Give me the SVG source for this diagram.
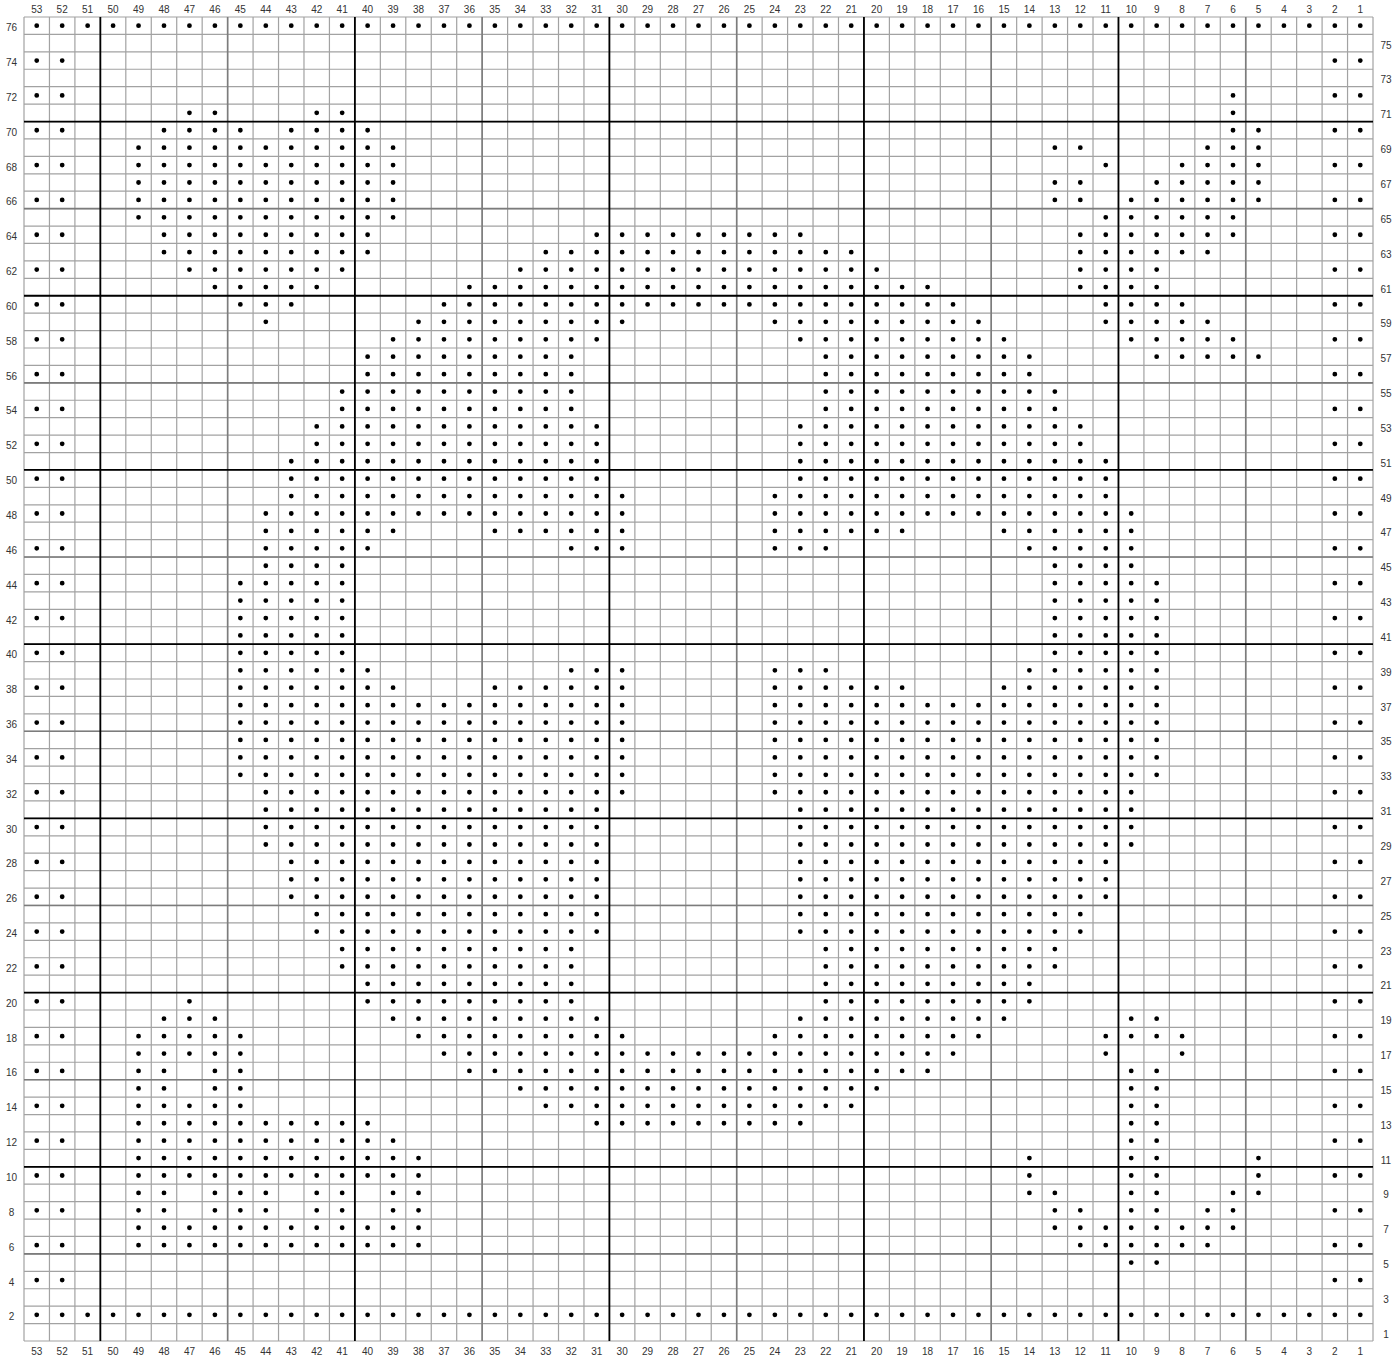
<svg xmlns="http://www.w3.org/2000/svg" width="1397" height="1360" viewBox="0 0 1397 1360">
<style>
.g1{fill:none;stroke:#a2a2a2;stroke-width:1.2;vector-effect:non-scaling-stroke}
.g5{fill:none;stroke:#7c7c7c;stroke-width:1.6;vector-effect:non-scaling-stroke}
.g10{fill:none;stroke:#000;stroke-width:1.8;vector-effect:non-scaling-stroke}
.d{fill:none;stroke:#000;stroke-width:4.8;stroke-linecap:round;stroke-dasharray:0 25.4528}
text{font-family:"Liberation Sans",Arial,sans-serif;font-size:10px;fill:#333;text-anchor:middle}
</style>
<rect width="1397" height="1360" fill="#fff"/>
<g id="grid" transform="translate(24 17) scale(25.45283 17.42105)">
<path class="g1" d="M0 0V76M1 0V76M2 0V76M3 0V76M4 0V76M5 0V76M6 0V76M7 0V76M8 0V76M9 0V76M10 0V76M11 0V76M12 0V76M13 0V76M14 0V76M15 0V76M16 0V76M17 0V76M18 0V76M19 0V76M20 0V76M21 0V76M22 0V76M23 0V76M24 0V76M25 0V76M26 0V76M27 0V76M28 0V76M29 0V76M30 0V76M31 0V76M32 0V76M33 0V76M34 0V76M35 0V76M36 0V76M37 0V76M38 0V76M39 0V76M40 0V76M41 0V76M42 0V76M43 0V76M44 0V76M45 0V76M46 0V76M47 0V76M48 0V76M49 0V76M50 0V76M51 0V76M52 0V76M53 0V76M0 0H53M0 1H53M0 2H53M0 3H53M0 4H53M0 5H53M0 6H53M0 7H53M0 8H53M0 9H53M0 10H53M0 11H53M0 12H53M0 13H53M0 14H53M0 15H53M0 16H53M0 17H53M0 18H53M0 19H53M0 20H53M0 21H53M0 22H53M0 23H53M0 24H53M0 25H53M0 26H53M0 27H53M0 28H53M0 29H53M0 30H53M0 31H53M0 32H53M0 33H53M0 34H53M0 35H53M0 36H53M0 37H53M0 38H53M0 39H53M0 40H53M0 41H53M0 42H53M0 43H53M0 44H53M0 45H53M0 46H53M0 47H53M0 48H53M0 49H53M0 50H53M0 51H53M0 52H53M0 53H53M0 54H53M0 55H53M0 56H53M0 57H53M0 58H53M0 59H53M0 60H53M0 61H53M0 62H53M0 63H53M0 64H53M0 65H53M0 66H53M0 67H53M0 68H53M0 69H53M0 70H53M0 71H53M0 72H53M0 73H53M0 74H53M0 75H53M0 76H53"/>
<path class="g5" d="M8 0V76M18 0V76M28 0V76M38 0V76M48 0V76M0 11H53M0 21H53M0 31H53M0 41H53M0 51H53M0 61H53M0 71H53"/>
<path class="g10" d="M3 0V76M13 0V76M23 0V76M33 0V76M43 0V76M0 6H53M0 16H53M0 26H53M0 36H53M0 46H53M0 56H53M0 66H53"/>
</g>
<g id="dots">
<path class="d" d="M36.73 25.71H1360.78"/>
<path class="d" d="M36.73 60.55H62.68M1334.83 60.55H1360.78"/>
<path class="d" d="M36.73 95.39H62.68M1233.02 95.39h0.5M1334.83 95.39H1360.78"/>
<path class="d" d="M189.45 112.82H215.4M316.71 112.82H342.66M1233.02 112.82h0.5"/>
<path class="d" d="M36.73 130.24H62.68M163.99 130.24H240.85M291.26 130.24H368.12M1233.02 130.24H1258.97M1334.83 130.24H1360.78"/>
<path class="d" d="M138.54 147.66H393.57M1054.85 147.66H1080.8M1207.57 147.66H1258.97"/>
<path class="d" d="M36.73 165.08H62.68M138.54 165.08H393.57M1105.75 165.08h0.5M1182.11 165.08H1258.97M1334.83 165.08H1360.78"/>
<path class="d" d="M138.54 182.5H393.57M1054.85 182.5H1080.8M1156.66 182.5H1258.97"/>
<path class="d" d="M36.73 199.92H62.68M138.54 199.92H393.57M1054.85 199.92H1080.8M1131.21 199.92H1258.97M1334.83 199.92H1360.78"/>
<path class="d" d="M138.54 217.34H393.57M1105.75 217.34H1233.52"/>
<path class="d" d="M36.73 234.76H62.68M163.99 234.76H368.12M596.69 234.76H800.82M1080.3 234.76H1233.52M1334.83 234.76H1360.78"/>
<path class="d" d="M163.99 252.18H368.12M545.79 252.18H851.72M1080.3 252.18H1208.07"/>
<path class="d" d="M36.73 269.6H62.68M189.45 269.6H342.66M520.34 269.6H877.18M1080.3 269.6H1157.16M1334.83 269.6H1360.78"/>
<path class="d" d="M214.9 287.03H317.21M469.43 287.03H928.08M1080.3 287.03H1157.16"/>
<path class="d" d="M36.73 304.45H62.68M240.35 304.45H291.76M443.98 304.45H953.54M1105.75 304.45H1182.61M1334.83 304.45H1360.78"/>
<path class="d" d="M265.81 321.87h0.5M418.52 321.87H622.65M774.87 321.87H978.99M1105.75 321.87H1208.07"/>
<path class="d" d="M36.73 339.29H62.68M393.07 339.29H597.19M800.32 339.29H1004.44M1131.21 339.29H1233.52M1334.83 339.29H1360.78"/>
<path class="d" d="M367.62 356.71H571.74M825.77 356.71H1029.9M1156.66 356.71H1258.97"/>
<path class="d" d="M36.73 374.13H62.68M367.62 374.13H571.74M825.77 374.13H1029.9M1334.83 374.13H1360.78"/>
<path class="d" d="M342.16 391.55H571.74M825.77 391.55H1055.35"/>
<path class="d" d="M36.73 408.97H62.68M342.16 408.97H571.74M825.77 408.97H1055.35M1334.83 408.97H1360.78"/>
<path class="d" d="M316.71 426.39H597.19M800.32 426.39H1080.8"/>
<path class="d" d="M36.73 443.82H62.68M316.71 443.82H597.19M800.32 443.82H1080.8M1334.83 443.82H1360.78"/>
<path class="d" d="M291.26 461.24H597.19M800.32 461.24H1106.25"/>
<path class="d" d="M36.73 478.66H62.68M291.26 478.66H597.19M800.32 478.66H1106.25M1334.83 478.66H1360.78"/>
<path class="d" d="M291.26 496.08H622.65M774.87 496.08H1106.25"/>
<path class="d" d="M36.73 513.5H62.68M265.81 513.5H622.65M774.87 513.5H1131.71M1334.83 513.5H1360.78"/>
<path class="d" d="M265.81 530.92H393.57M494.88 530.92H622.65M774.87 530.92H902.63M1003.94 530.92H1131.71"/>
<path class="d" d="M36.73 548.34H62.68M265.81 548.34H368.12M571.24 548.34H622.65M774.87 548.34H826.27M1029.4 548.34H1131.71M1334.83 548.34H1360.78"/>
<path class="d" d="M265.81 565.76H342.66M1054.85 565.76H1131.71"/>
<path class="d" d="M36.73 583.18H62.68M240.35 583.18H342.66M1054.85 583.18H1157.16M1334.83 583.18H1360.78"/>
<path class="d" d="M240.35 600.6H342.66M1054.85 600.6H1157.16"/>
<path class="d" d="M36.73 618.03H62.68M240.35 618.03H342.66M1054.85 618.03H1157.16M1334.83 618.03H1360.78"/>
<path class="d" d="M240.35 635.45H342.66M1054.85 635.45H1157.16"/>
<path class="d" d="M36.73 652.87H62.68M240.35 652.87H342.66M1054.85 652.87H1157.16M1334.83 652.87H1360.78"/>
<path class="d" d="M240.35 670.29H368.12M571.24 670.29H622.65M774.87 670.29H826.27M1029.4 670.29H1157.16"/>
<path class="d" d="M36.73 687.71H62.68M240.35 687.71H393.57M494.88 687.71H622.65M774.87 687.71H902.63M1003.94 687.71H1157.16M1334.83 687.71H1360.78"/>
<path class="d" d="M240.35 705.13H622.65M774.87 705.13H1157.16"/>
<path class="d" d="M36.73 722.55H62.68M240.35 722.55H622.65M774.87 722.55H1157.16M1334.83 722.55H1360.78"/>
<path class="d" d="M240.35 739.97H622.65M774.87 739.97H1157.16"/>
<path class="d" d="M36.73 757.39H62.68M240.35 757.39H622.65M774.87 757.39H1157.16M1334.83 757.39H1360.78"/>
<path class="d" d="M240.35 774.82H622.65M774.87 774.82H1157.16"/>
<path class="d" d="M36.73 792.24H62.68M265.81 792.24H622.65M774.87 792.24H1131.71M1334.83 792.24H1360.78"/>
<path class="d" d="M265.81 809.66H597.19M800.32 809.66H1131.71"/>
<path class="d" d="M36.73 827.08H62.68M265.81 827.08H597.19M800.32 827.08H1131.71M1334.83 827.08H1360.78"/>
<path class="d" d="M265.81 844.5H597.19M800.32 844.5H1131.71"/>
<path class="d" d="M36.73 861.92H62.68M291.26 861.92H597.19M800.32 861.92H1106.25M1334.83 861.92H1360.78"/>
<path class="d" d="M291.26 879.34H597.19M800.32 879.34H1106.25"/>
<path class="d" d="M36.73 896.76H62.68M291.26 896.76H597.19M800.32 896.76H1106.25M1334.83 896.76H1360.78"/>
<path class="d" d="M316.71 914.18H597.19M800.32 914.18H1080.8"/>
<path class="d" d="M36.73 931.6H62.68M316.71 931.6H597.19M800.32 931.6H1080.8M1334.83 931.6H1360.78"/>
<path class="d" d="M342.16 949.03H571.74M825.77 949.03H1055.35"/>
<path class="d" d="M36.73 966.45H62.68M342.16 966.45H571.74M825.77 966.45H1055.35M1334.83 966.45H1360.78"/>
<path class="d" d="M367.62 983.87H571.74M825.77 983.87H1029.9"/>
<path class="d" d="M36.73 1001.29H62.68M189.45 1001.29h0.5M367.62 1001.29H571.74M825.77 1001.29H1029.9M1334.83 1001.29H1360.78"/>
<path class="d" d="M163.99 1018.71H215.4M393.07 1018.71H597.19M800.32 1018.71H1004.44M1131.21 1018.71H1157.16"/>
<path class="d" d="M36.73 1036.13H62.68M138.54 1036.13H240.85M418.52 1036.13H622.65M774.87 1036.13H978.99M1105.75 1036.13H1182.61M1334.83 1036.13H1360.78"/>
<path class="d" d="M138.54 1053.55H240.85M443.98 1053.55H953.54M1105.75 1053.55h0.5M1182.11 1053.55h0.5"/>
<path class="d" d="M36.73 1070.97H62.68M138.54 1070.97H164.49M214.9 1070.97H240.85M469.43 1070.97H928.08M1131.21 1070.97H1157.16M1334.83 1070.97H1360.78"/>
<path class="d" d="M138.54 1088.39H164.49M214.9 1088.39H240.85M520.34 1088.39H877.18M1131.21 1088.39H1157.16"/>
<path class="d" d="M36.73 1105.82H62.68M138.54 1105.82H240.85M545.79 1105.82H851.72M1131.21 1105.82H1157.16M1334.83 1105.82H1360.78"/>
<path class="d" d="M138.54 1123.24H368.12M596.69 1123.24H800.82M1131.21 1123.24H1157.16"/>
<path class="d" d="M36.73 1140.66H62.68M138.54 1140.66H393.57M1131.21 1140.66H1157.16M1334.83 1140.66H1360.78"/>
<path class="d" d="M138.54 1158.08H419.02M1029.4 1158.08h0.5M1131.21 1158.08H1157.16M1258.47 1158.08h0.5"/>
<path class="d" d="M36.73 1175.5H62.68M138.54 1175.5H419.02M1029.4 1175.5h0.5M1131.21 1175.5H1157.16M1258.47 1175.5h0.5M1334.83 1175.5H1360.78"/>
<path class="d" d="M138.54 1192.92H164.49M214.9 1192.92H266.31M316.71 1192.92H342.66M393.07 1192.92H419.02M1029.4 1192.92H1055.35M1131.21 1192.92H1157.16M1233.02 1192.92H1258.97"/>
<path class="d" d="M36.73 1210.34H62.68M138.54 1210.34H164.49M214.9 1210.34H266.31M316.71 1210.34H342.66M393.07 1210.34H419.02M1054.85 1210.34H1080.8M1131.21 1210.34H1157.16M1207.57 1210.34H1233.52M1334.83 1210.34H1360.78"/>
<path class="d" d="M138.54 1227.76H419.02M1054.85 1227.76H1233.52"/>
<path class="d" d="M36.73 1245.18H62.68M138.54 1245.18H419.02M1080.3 1245.18H1208.07M1334.83 1245.18H1360.78"/>
<path class="d" d="M1131.21 1262.61H1157.16"/>
<path class="d" d="M36.73 1280.03H62.68M1334.83 1280.03H1360.78"/>
<path class="d" d="M36.73 1314.87H1360.78"/>
</g>
<g id="col-labels-top">
<text x="36.73" y="13">53</text><text x="62.18" y="13">52</text><text x="87.63" y="13">51</text><text x="113.09" y="13">50</text><text x="138.54" y="13">49</text><text x="163.99" y="13">48</text><text x="189.45" y="13">47</text><text x="214.9" y="13">46</text><text x="240.35" y="13">45</text><text x="265.81" y="13">44</text><text x="291.26" y="13">43</text><text x="316.71" y="13">42</text><text x="342.16" y="13">41</text><text x="367.62" y="13">40</text><text x="393.07" y="13">39</text><text x="418.52" y="13">38</text><text x="443.98" y="13">37</text><text x="469.43" y="13">36</text><text x="494.88" y="13">35</text><text x="520.34" y="13">34</text><text x="545.79" y="13">33</text><text x="571.24" y="13">32</text><text x="596.69" y="13">31</text><text x="622.15" y="13">30</text><text x="647.6" y="13">29</text><text x="673.05" y="13">28</text><text x="698.51" y="13">27</text><text x="723.96" y="13">26</text><text x="749.41" y="13">25</text><text x="774.87" y="13">24</text><text x="800.32" y="13">23</text><text x="825.77" y="13">22</text><text x="851.22" y="13">21</text><text x="876.68" y="13">20</text><text x="902.13" y="13">19</text><text x="927.58" y="13">18</text><text x="953.04" y="13">17</text><text x="978.49" y="13">16</text><text x="1003.94" y="13">15</text><text x="1029.4" y="13">14</text><text x="1054.85" y="13">13</text><text x="1080.3" y="13">12</text><text x="1105.75" y="13">11</text><text x="1131.21" y="13">10</text><text x="1156.66" y="13">9</text><text x="1182.11" y="13">8</text><text x="1207.57" y="13">7</text><text x="1233.02" y="13">6</text><text x="1258.47" y="13">5</text><text x="1283.93" y="13">4</text><text x="1309.38" y="13">3</text><text x="1334.83" y="13">2</text><text x="1360.28" y="13">1</text>
</g>
<g id="col-labels-bottom">
<text x="36.73" y="1355">53</text><text x="62.18" y="1355">52</text><text x="87.63" y="1355">51</text><text x="113.09" y="1355">50</text><text x="138.54" y="1355">49</text><text x="163.99" y="1355">48</text><text x="189.45" y="1355">47</text><text x="214.9" y="1355">46</text><text x="240.35" y="1355">45</text><text x="265.81" y="1355">44</text><text x="291.26" y="1355">43</text><text x="316.71" y="1355">42</text><text x="342.16" y="1355">41</text><text x="367.62" y="1355">40</text><text x="393.07" y="1355">39</text><text x="418.52" y="1355">38</text><text x="443.98" y="1355">37</text><text x="469.43" y="1355">36</text><text x="494.88" y="1355">35</text><text x="520.34" y="1355">34</text><text x="545.79" y="1355">33</text><text x="571.24" y="1355">32</text><text x="596.69" y="1355">31</text><text x="622.15" y="1355">30</text><text x="647.6" y="1355">29</text><text x="673.05" y="1355">28</text><text x="698.51" y="1355">27</text><text x="723.96" y="1355">26</text><text x="749.41" y="1355">25</text><text x="774.87" y="1355">24</text><text x="800.32" y="1355">23</text><text x="825.77" y="1355">22</text><text x="851.22" y="1355">21</text><text x="876.68" y="1355">20</text><text x="902.13" y="1355">19</text><text x="927.58" y="1355">18</text><text x="953.04" y="1355">17</text><text x="978.49" y="1355">16</text><text x="1003.94" y="1355">15</text><text x="1029.4" y="1355">14</text><text x="1054.85" y="1355">13</text><text x="1080.3" y="1355">12</text><text x="1105.75" y="1355">11</text><text x="1131.21" y="1355">10</text><text x="1156.66" y="1355">9</text><text x="1182.11" y="1355">8</text><text x="1207.57" y="1355">7</text><text x="1233.02" y="1355">6</text><text x="1258.47" y="1355">5</text><text x="1283.93" y="1355">4</text><text x="1309.38" y="1355">3</text><text x="1334.83" y="1355">2</text><text x="1360.28" y="1355">1</text>
</g>
<g id="row-labels-left">
<text x="11.5" y="31.21">76</text><text x="11.5" y="66.05">74</text><text x="11.5" y="100.89">72</text><text x="11.5" y="135.74">70</text><text x="11.5" y="170.58">68</text><text x="11.5" y="205.42">66</text><text x="11.5" y="240.26">64</text><text x="11.5" y="275.1">62</text><text x="11.5" y="309.95">60</text><text x="11.5" y="344.79">58</text><text x="11.5" y="379.63">56</text><text x="11.5" y="414.47">54</text><text x="11.5" y="449.32">52</text><text x="11.5" y="484.16">50</text><text x="11.5" y="519">48</text><text x="11.5" y="553.84">46</text><text x="11.5" y="588.68">44</text><text x="11.5" y="623.53">42</text><text x="11.5" y="658.37">40</text><text x="11.5" y="693.21">38</text><text x="11.5" y="728.05">36</text><text x="11.5" y="762.89">34</text><text x="11.5" y="797.74">32</text><text x="11.5" y="832.58">30</text><text x="11.5" y="867.42">28</text><text x="11.5" y="902.26">26</text><text x="11.5" y="937.1">24</text><text x="11.5" y="971.95">22</text><text x="11.5" y="1006.79">20</text><text x="11.5" y="1041.63">18</text><text x="11.5" y="1076.47">16</text><text x="11.5" y="1111.32">14</text><text x="11.5" y="1146.16">12</text><text x="11.5" y="1181">10</text><text x="11.5" y="1215.84">8</text><text x="11.5" y="1250.68">6</text><text x="11.5" y="1285.53">4</text><text x="11.5" y="1320.37">2</text>
</g>
<g id="row-labels-right">
<text x="1386" y="48.63">75</text><text x="1386" y="83.47">73</text><text x="1386" y="118.32">71</text><text x="1386" y="153.16">69</text><text x="1386" y="188">67</text><text x="1386" y="222.84">65</text><text x="1386" y="257.68">63</text><text x="1386" y="292.53">61</text><text x="1386" y="327.37">59</text><text x="1386" y="362.21">57</text><text x="1386" y="397.05">55</text><text x="1386" y="431.89">53</text><text x="1386" y="466.74">51</text><text x="1386" y="501.58">49</text><text x="1386" y="536.42">47</text><text x="1386" y="571.26">45</text><text x="1386" y="606.1">43</text><text x="1386" y="640.95">41</text><text x="1386" y="675.79">39</text><text x="1386" y="710.63">37</text><text x="1386" y="745.47">35</text><text x="1386" y="780.32">33</text><text x="1386" y="815.16">31</text><text x="1386" y="850">29</text><text x="1386" y="884.84">27</text><text x="1386" y="919.68">25</text><text x="1386" y="954.53">23</text><text x="1386" y="989.37">21</text><text x="1386" y="1024.21">19</text><text x="1386" y="1059.05">17</text><text x="1386" y="1093.89">15</text><text x="1386" y="1128.74">13</text><text x="1386" y="1163.58">11</text><text x="1386" y="1198.42">9</text><text x="1386" y="1233.26">7</text><text x="1386" y="1268.11">5</text><text x="1386" y="1302.95">3</text><text x="1386" y="1337.79">1</text>
</g>
</svg>
